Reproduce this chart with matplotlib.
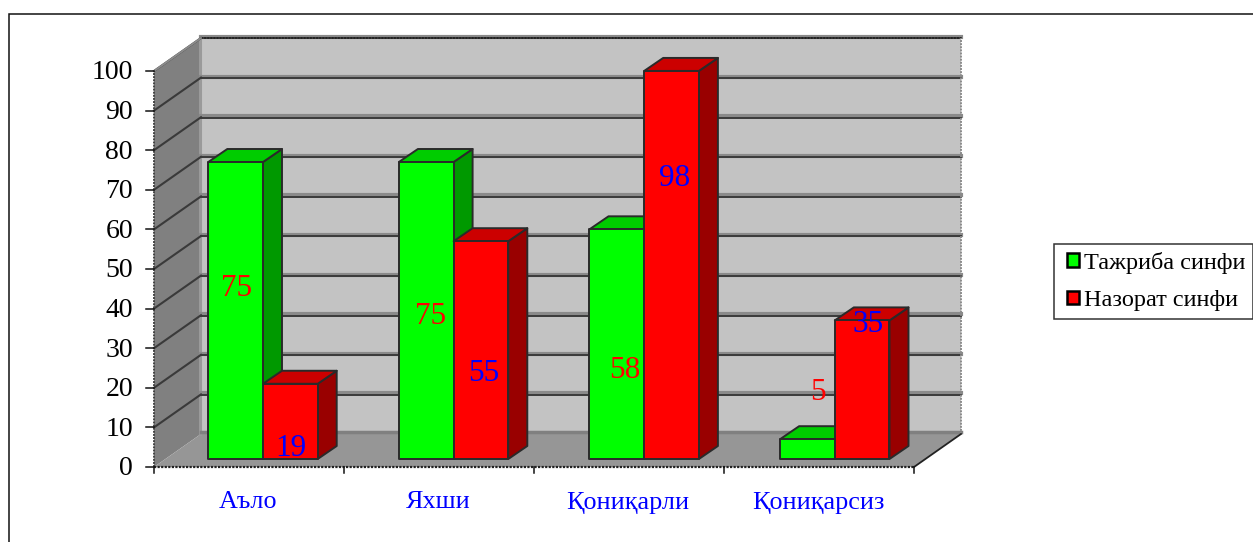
import matplotlib
matplotlib.use("Agg")
import matplotlib.pyplot as plt
from matplotlib.patches import Polygon, Rectangle
from matplotlib.lines import Line2D
from matplotlib.legend_handler import HandlerPatch

plt.rcParams['font.family'] = ['Liberation Serif', 'DejaVu Serif']

categories = ['Аъло', 'Яхши', 'Қониқарли', 'Қониқарсиз']
series_names = ['Тажриба синфи', 'Назорат синфи']
experiment = [75, 75, 58, 5]
control = [19, 55, 98, 35]
y_ticks = list(range(0, 101, 10))
# hand-placed data label centres (category units, value units), as in the reference
label_pos_exp = [(0.437, 45.0), (1.458, 38.0), (2.479, 24.3), (3.492, 18.9)]
label_pos_ctl = [(0.721, 4.7), (1.737, 23.5), (2.742, 72.9), (3.758, 35.9)]

W, H = 1253, 542
fig = plt.figure(figsize=(W / 100, H / 100), dpi=100, facecolor='white')
L, R, B, T = 154, 914, 467, 71
ax = fig.add_axes([L / W, 1 - B / H, (R - L) / W, (B - T) / H])
ax.set_xlim(0, 4)
ax.set_ylim(0, 100)
ax.axis('off')

px = 4 / (R - L)            # category units per pixel
py = 100 / (B - T)          # value units per pixel
DX, DY = 47 * px, 33 * py   # depth of the chart box
BX, BY = 19 * px, 13 * py   # depth of a bar
FX, FY = 11.5 * px, 8 * py  # offset of the bars from the front plane
BAR = 54.7 * px
GROUP0 = 42.8 * px


def poly(pts, fc, ec='none', lw=0, z=1):
    ax.add_patch(Polygon(pts, closed=True, facecolor=fc, edgecolor=ec, linewidth=lw,
                         zorder=z, clip_on=False, joinstyle='round'))


def line(xs, ys, c, lw, z=2, **kw):
    ax.add_line(Line2D(xs, ys, color=c, linewidth=lw, zorder=z, clip_on=False, **kw))


# walls
poly([(DX, DY), (4 + DX, DY), (4 + DX, 100 + DY), (DX, 100 + DY)], '#c3c3c3')
poly([(0, 0), (DX, DY), (DX, 100 + DY), (0, 100)], '#808080')
poly([(0, 0), (4, 0), (4 + DX, DY), (DX, DY)], '#969696')
line([DX - 1.5 * px, DX - 1.5 * px], [DY, 100 + DY], '#9a9a9a', 2.2)

# gridlines
for v in y_ticks[1:]:
    line([DX, 4 + DX], [v + DY + 0.25, v + DY + 0.25], '#8a8a8a', 3.0, z=2)
    line([DX, 4 + DX], [v + DY - 0.1, v + DY - 0.1], '#3a3a3a', 1.4, z=2.1)
    line([0, DX], [v, v + DY], '#3a3a3a', 1.5, z=2.1)
line([DX, 4 + DX], [DY + 0.4, DY + 0.4], '#808080', 2.5, z=2)
line([DX, 4 + DX], [100 + DY, 100 + DY], '#222222', 1.4, z=2.1, linestyle=(0, (1, 0.6)))
line([4 + DX, 4 + DX], [DY, 100 + DY], '#8c8c8c', 1.4, z=2.1, linestyle=(0, (1, 0.6)))
line([0, DX], [100, 100 + DY], '#8c8c8c', 1.4, z=2.1)
line([4, 4 + DX], [0, DY], '#222222', 1.3, z=2.1)

# axes
line([0, 0], [0, 100], '#444444', 1.4, z=2.2, linestyle=(0, (1, 0.6)))
line([0, 4], [0, 0], '#222222', 1.6, z=2.2, linestyle=(0, (1, 0.6)))
for v in y_ticks:
    line([-8 * px, 0], [v, v], '#111111', 1.1, z=2.2)
    ax.text(-21 * px, v - 0.5, str(v), ha='right', va='center', fontsize=20, color='black')
for i in range(5):
    line([i, i], [0, -6 * py], '#111111', 1.1, z=2.2)
for i, c in enumerate(categories):
    ax.text(i + 0.5 - 1 * px, -35.5 * py, c, ha='center', va='center', fontsize=18.8, color='#0000ff')


# bars
def bar(x0, v, front, top, side, z):
    x1 = x0 + BAR
    y0, y1 = FY, FY + v
    ec = '#2a2a2a'
    poly([(x1, y0), (x1 + BX, y0 + BY), (x1 + BX, y1 + BY), (x1, y1)], side, ec, 1.4, z)
    poly([(x0, y1), (x1, y1), (x1 + BX, y1 + BY), (x0 + BX, y1 + BY)], top, ec, 1.4, z)
    poly([(x0, y0), (x1, y0), (x1, y1), (x0, y1)], front, ec, 1.4, z + 0.1)


for i in range(len(categories)):
    x0 = i + GROUP0 + FX + i * 0.6 * px
    bar(x0, experiment[i], '#00ff00', '#00cc00', '#009900', 3 + i)
    bar(x0 + BAR, control[i], '#ff0000', '#cc0000', '#990000', 3.4 + i)

# data labels
for (x, y), v in zip(label_pos_exp, experiment):
    ax.text(x, y, str(v), ha='center', va='center', fontsize=22.5, color='#ff0000', zorder=20)
for (x, y), v in zip(label_pos_ctl, control):
    ax.text(x, y, str(v), ha='center', va='center', fontsize=22.5, color='#0000ff', zorder=20)

# outer chart border (right and bottom fall outside the picture)
fig.add_artist(Rectangle((8.5 / W, -0.1), 1.2, 1.1 - 14 / H, transform=fig.transFigure,
                         facecolor='none', edgecolor='#111111', linewidth=1.1))


# legend
def inset_square(legend, orig_handle, xdescent, ydescent, width, height, fontsize):
    off = 0.2 * fontsize
    return Rectangle((-xdescent + off, -ydescent), width - off, height)


handles = [Rectangle((0, 0), 1, 1, facecolor='#00ff00', edgecolor='black', linewidth=1.8),
           Rectangle((0, 0), 1, 1, facecolor='#ff0000', edgecolor='black', linewidth=1.8)]
leg = fig.legend(handles, series_names, loc='center left',
                 bbox_to_anchor=(1054 / W, 1 - 281.5 / H), fontsize=17.5, fancybox=False,
                 edgecolor='#333333', framealpha=1, borderpad=0.32, labelspacing=0.67,
                 handlelength=0.7, handleheight=0.5, handletextpad=0.2, borderaxespad=0,
                 handler_map={Rectangle: HandlerPatch(patch_func=inset_square)})
leg.get_frame().set_linewidth(1.1)

fig.savefig('out.png', dpi=100)
